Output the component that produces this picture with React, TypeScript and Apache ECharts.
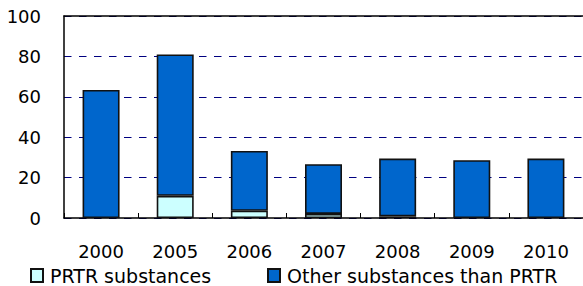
import React, { useEffect, useRef } from "react";
import * as echarts from "echarts";

const categories = ["2000", "2005", "2006", "2007", "2008", "2009", "2010"];
const prtrValues = [0, 11, 3.6, 2, 0.8, 0, 0];
const otherValues = [63.4, 70, 29.6, 24.6, 28.6, 28.6, 29.4];
const yTicks = { min: 0, max: 100, interval: 20 };
const seriesNames = ["PRTR substances", "Other substances than PRTR"];

const FONT = "DejaVu Sans";
const TEXT = "#000";

export default function App() {
  const ref = useRef<HTMLDivElement>(null);
  useEffect(() => {
    if (!ref.current) return;
    const chart = echarts.init(ref.current, null, { renderer: "svg" });
    const legendCommon = {
      top: 266,
      itemWidth: 12,
      itemHeight: 13,
      icon: "rect",
      textStyle: { fontFamily: FONT, fontSize: 19, lineHeight: 15, color: TEXT, padding: [0, 0, 0, 2] },
      padding: 0,
    };
    chart.setOption({
      animation: false,
      backgroundColor: "#fff",
      textStyle: { fontFamily: FONT },
      grid: { left: 64, top: 16, width: 523, bottom: 68, show: false },
      legend: [
        { ...legendCommon, data: [seriesNames[0]], left: 30 },
        { ...legendCommon, data: [seriesNames[1]], left: 267 },
      ],
      xAxis: [
        {
          type: "category",
          data: categories,
          boundaryGap: true,
          axisLine: { lineStyle: { color: "#000", width: 1.5 } },
          axisTick: { show: true, inside: true, length: 5, lineStyle: { color: "#000", width: 1 } },
          axisLabel: { fontFamily: FONT, fontSize: 18, color: TEXT, margin: 24 },
        },
        {
          type: "category",
          data: categories,
          position: "top",
          axisLine: { show: true, lineStyle: { color: "#000", width: 1.5 } },
          axisTick: { show: false },
          axisLabel: { show: false },
          splitLine: { show: false },
        },
      ],
      yAxis: {
        type: "value",
        min: yTicks.min,
        max: yTicks.max,
        interval: yTicks.interval,
        axisLine: { show: true, lineStyle: { color: "#000", width: 1.5 } },
        axisTick: { show: false },
        axisLabel: { fontFamily: FONT, fontSize: 18, color: TEXT, margin: 23 },
        splitLine: { show: true, lineStyle: { color: "#000080", width: 1.2, type: [7.5, 7.5] } },
      },
      series: [
        {
          name: seriesNames[0],
          type: "bar",
          stack: "total",
          barWidth: 37,
          data: prtrValues.map((v) => (v === 0 ? null : v)),
          itemStyle: { color: "#CCFFFF", borderColor: "#111", borderWidth: 1.6 },
        },
        {
          name: seriesNames[1],
          type: "bar",
          stack: "total",
          barWidth: 37,
          data: otherValues,
          itemStyle: { color: "#0066CC", borderColor: "#111", borderWidth: 1.6 },
        },
      ],
    });
    return () => chart.dispose();
  }, []);
  return <div ref={ref} style={{ width: 583, height: 286, position: "absolute", left: 0, top: 0 }} />;
}
